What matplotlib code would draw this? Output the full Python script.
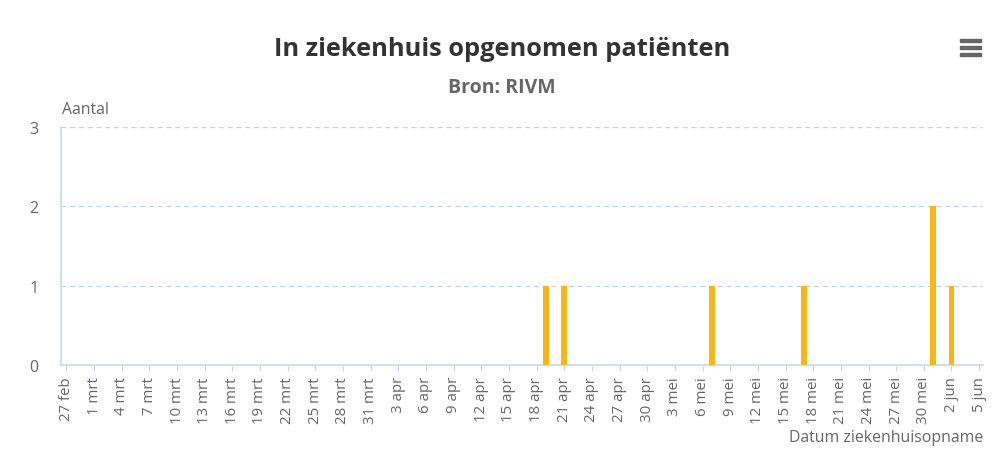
import matplotlib.pyplot as plt
from matplotlib.patches import Rectangle
import pandas as pd

# data
start_date = '2020-02-27'
end_date = '2020-06-05'
admit_dates = ['2020-04-19', '2020-04-21', '2020-05-07', '2020-05-17', '2020-05-31', '2020-06-02']
admit_counts = [1, 1, 1, 1, 2, 1]
month_nl = {2: 'feb', 3: 'mrt', 4: 'apr', 5: 'mei', 6: 'jun'}

plt.rcParams['font.family'] = ['Open Sans', 'DejaVu Sans']

fig = plt.figure(figsize=(10.04, 4.56), dpi=100)
ax = fig.add_axes([61 / 1004, 1 - 366 / 456, 922 / 1004, 238 / 456])

x = pd.to_datetime(admit_dates)
ax.bar(x, admit_counts, width=0.62, color='#f9b513', zorder=3)

t0 = pd.Timestamp(start_date)
t1 = pd.Timestamp(end_date)
ax.set_xlim(t0 - pd.Timedelta(hours=14), t1 + pd.Timedelta(hours=10))
ax.set_ylim(0, 3)

ticks = pd.date_range(t0, t1, freq='3D')
ax.set_xticks(ticks)
ax.set_xticklabels([f'{d.day} {month_nl[d.month]}' for d in ticks],
                   rotation=90, fontsize=10.8, color='#666666')
ax.set_yticks([0, 1, 2, 3])
ax.set_yticklabels(['0', '1', '2', '3'], fontsize=11.5, color='#666666')

ax.grid(axis='y', linestyle=(0, (4, 3)), color='#c5d3dc', linewidth=0.9, zorder=0)
ax.grid(axis='x', visible=False)
for side in ['top', 'right']:
    ax.spines[side].set_visible(False)
for side in ['left', 'bottom']:
    ax.spines[side].set_color('#ccd6eb')
    ax.spines[side].set_linewidth(1.2)
ax.tick_params(axis='x', length=4, color='#ccd6eb', pad=4)
ax.tick_params(axis='y', length=0, pad=16)

fig.text(0.5, 1 - 50 / 456, 'In ziekenhuis opgenomen patiënten', ha='center', va='center',
         fontsize=18.3, fontweight='bold', color='#333333')
fig.text(0.5, 1 - 88 / 456, 'Bron: RIVM', ha='center', va='center',
         fontsize=14, fontweight='bold', color='#666666')
fig.text(62 / 1004, 1 - 110 / 456, 'Aantal', ha='left', va='center',
         fontsize=11.3, color='#666666')
fig.text(983 / 1004, 1 - 438 / 456, 'Datum ziekenhuisopname', ha='right', va='center',
         fontsize=11.4, color='#666666')

# menu icon
for yy in [41, 48, 55]:
    fig.patches.append(Rectangle((960 / 1004, 1 - (yy + 2) / 456), 21 / 1004, 3 / 456,
                                 transform=fig.transFigure, color='#666666'))

fig.savefig('out.png', dpi=100)
